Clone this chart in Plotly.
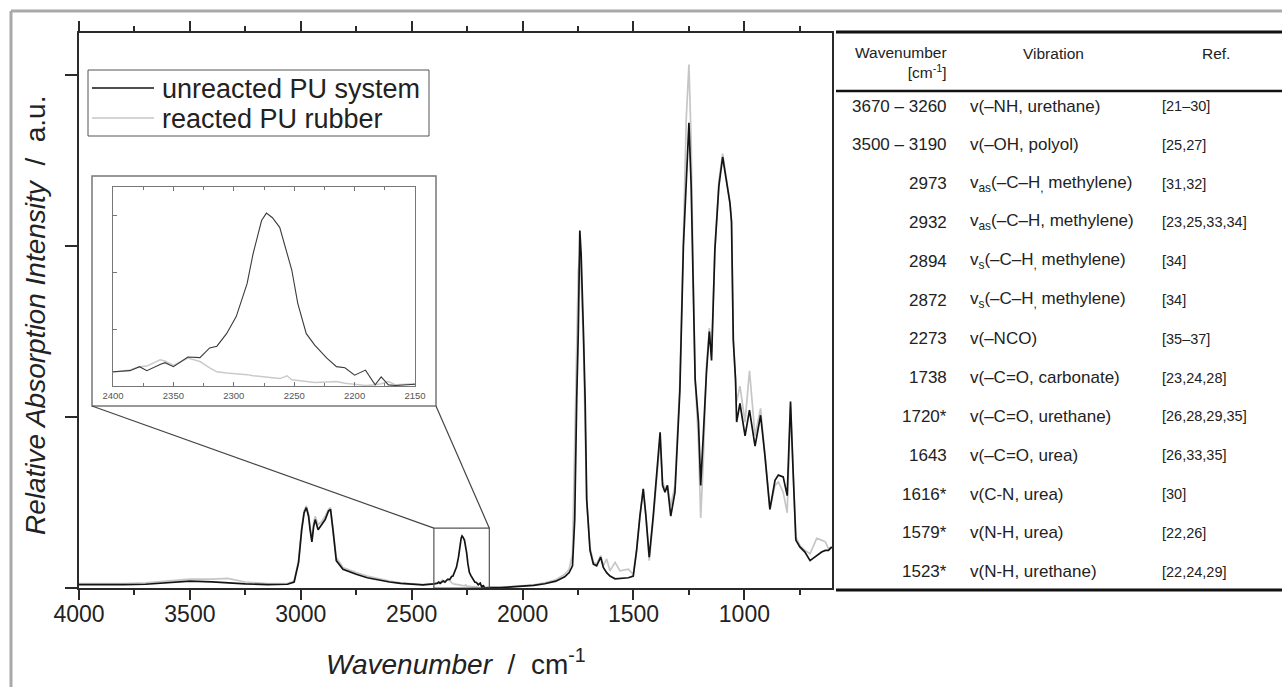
import plotly.graph_objects as go

W, H = 1282, 687

# ---------------- data ----------------
wavenumber = [4000, 3900, 3800, 3700, 3600, 3500, 3400, 3330, 3250, 3150, 3060, 3030, 3010, 2996,
              2985, 2975, 2965, 2958, 2950, 2942, 2935, 2922, 2905, 2890, 2875, 2866, 2855, 2840,
              2810, 2750, 2700, 2600, 2550, 2450,
              2400, 2386, 2378, 2372, 2361, 2357, 2350, 2338, 2328, 2320, 2314, 2306, 2298, 2289,
              2284, 2277, 2273, 2268, 2262, 2258, 2256, 2252, 2247, 2240, 2233, 2223, 2215, 2208,
              2200, 2191, 2183, 2178, 2172, 2166,
              2150, 2100, 2050, 2000, 1950, 1900, 1850, 1810, 1790, 1775, 1765, 1756, 1749, 1742,
              1736, 1726, 1718, 1711, 1696, 1681, 1666, 1648, 1636, 1621, 1606, 1583, 1561, 1523,
              1501, 1486, 1471, 1456, 1444, 1429, 1411, 1399, 1380, 1369, 1358, 1347, 1332, 1313,
              1291, 1275, 1262, 1250, 1240, 1230, 1222, 1207, 1197, 1185, 1171, 1158, 1148, 1133,
              1115, 1098, 1080, 1065, 1058, 1050, 1040, 1035, 1020, 997, 977, 952, 927, 907, 885,
              862, 847, 825, 807, 792, 780, 768, 750, 727, 704, 674, 652, 635, 621, 606]

unreacted = [0.020, 0.018, 0.020, 0.022, 0.030, 0.040, 0.036, 0.030, 0.024, 0.020, 0.022, 0.035, 0.15, 0.34,
             0.44, 0.47, 0.42, 0.34, 0.27, 0.36, 0.40, 0.34, 0.37, 0.40, 0.45, 0.46, 0.34, 0.16,
             0.11, 0.08, 0.06, 0.035, 0.027, 0.018,
             0.024, 0.027, 0.034, 0.027, 0.038, 0.041, 0.034, 0.051, 0.050, 0.067, 0.070, 0.092, 0.122, 0.180,
             0.233, 0.291, 0.304, 0.296, 0.279, 0.250, 0.232, 0.204, 0.145, 0.092, 0.072, 0.049, 0.034, 0.032,
             0.019, 0.028, 0.002, 0.016, 0.002, 0.001,
             0.003, 0.002, 0.006, 0.010, 0.015, 0.025, 0.040, 0.065, 0.09, 0.13, 0.40, 1.10, 1.49, 2.09,
             1.95, 1.51, 1.10, 0.52, 0.22, 0.14, 0.13, 0.18, 0.12, 0.09, 0.07, 0.054, 0.055, 0.06,
             0.07, 0.22, 0.42, 0.58, 0.42, 0.18, 0.42, 0.61, 0.91, 0.60, 0.56, 0.60, 0.42, 0.56,
             1.15, 2.00, 2.40, 2.72, 2.35, 1.78, 1.22, 0.97, 0.60, 0.90, 1.26, 1.50, 1.33, 1.98,
             2.35, 2.52, 2.37, 2.25, 2.14, 1.45, 1.22, 0.97, 1.08, 0.89, 1.04, 0.83, 1.01, 0.77, 0.46,
             0.63, 0.66, 0.65, 0.54, 1.09, 0.67, 0.28, 0.24, 0.21, 0.16, 0.19, 0.21, 0.22, 0.22, 0.24]

reacted = [0.025, 0.024, 0.026, 0.030, 0.042, 0.052, 0.052, 0.056, 0.035, 0.025, 0.026, 0.040, 0.16, 0.35,
           0.45, 0.48, 0.43, 0.35, 0.28, 0.38, 0.42, 0.37, 0.39, 0.42, 0.46, 0.47, 0.36, 0.18,
           0.12, 0.09, 0.07, 0.040, 0.030, 0.020,
           0.024, 0.028, 0.034, 0.035, 0.046, 0.044, 0.036, 0.049, 0.043, 0.032, 0.025, 0.023, 0.022, 0.020,
           0.018, 0.016, 0.015, 0.014, 0.013, 0.016, 0.018, 0.011, 0.010, 0.008, 0.006, 0.007, 0.008, 0.005,
           0.003, 0.001, 0.002, 0.004, 0.008, 0.002,
           0.004, 0.004, 0.008, 0.012, 0.018, 0.030, 0.048, 0.080, 0.11, 0.20, 0.80, 1.49, 1.85, 1.95,
           1.80, 1.45, 1.00, 0.50, 0.24, 0.15, 0.14, 0.19, 0.13, 0.17, 0.10, 0.15, 0.10, 0.11,
           0.08, 0.22, 0.42, 0.58, 0.42, 0.16, 0.40, 0.58, 0.87, 0.62, 0.58, 0.60, 0.48, 0.60,
           1.20, 2.05, 2.75, 3.06, 2.60, 1.78, 1.22, 0.85, 0.41, 0.75, 1.30, 1.52, 1.38, 1.98,
           2.38, 2.54, 2.37, 2.25, 2.14, 1.45, 1.22, 1.09, 1.18, 0.97, 1.27, 0.89, 1.05, 0.77, 0.46,
           0.60, 0.62, 0.56, 0.44, 1.06, 0.67, 0.30, 0.25, 0.22, 0.20, 0.29, 0.28, 0.27, 0.23, 0.24]

series_names = ["unreacted PU system", "reacted PU rubber"]

x_tick_vals = [4000, 3500, 3000, 2500, 2000, 1500, 1000]
y_tick_vals = [0, 1, 2, 3]
inset_x_ticks = [2400, 2350, 2300, 2250, 2200, 2150]
inset_y_ticks = [0.1, 0.2, 0.3]

table_header = ["Wavenumber<br>[cm<sup>-1</sup>]", "Vibration", "Ref."]
table_wavenumber = ["3670 – 3260", "3500 – 3190", "2973", "2932", "2894", "2872", "2273",
                    "1738", "1720*", "1643", "1616*", "1579*", "1523*"]
table_vibration = ["v(–NH, urethane)", "v(–OH, polyol)",
                   "v<sub>as</sub>(–C–H<sub>,</sub> methylene)", "v<sub>as</sub>(–C–H, methylene)",
                   "v<sub>s</sub>(–C–H<sub>,</sub> methylene)", "v<sub>s</sub>(–C–H<sub>,</sub> methylene)",
                   "v(–NCO)", "v(–C=O, carbonate)", "v(–C=O, urethane)", "v(–C=O, urea)",
                   "v(C-N, urea)", "v(N-H, urea)", "v(N-H, urethane)"]
table_ref = ["[21–30]", "[25,27]", "[31,32]", "[23,25,33,34]", "[34]", "[34]", "[35–37]",
             "[23,24,28]", "[26,28,29,35]", "[26,33,35]", "[30]", "[22,26]", "[22,24,29]"]

# ---------------- layout geometry (pixels) ----------------
def fx(p):
    return p / W

def fy(p):
    return 1 - p / H

MAIN_L, MAIN_R, MAIN_T, MAIN_B = 79, 832, 33, 588
X_RANGE = [4000, 605]
Y_RANGE = [0, 3.245]
INS_L, INS_R, INS_T, INS_B = 113, 415, 187, 386
INS_X_RANGE = [2400, 2150]
INS_Y_RANGE = [0, 0.35]

FONT = "Liberation Sans, Arial, Helvetica, sans-serif"
BLACK = "#141414"
GREY = "#c6c6c6"
series_colors = [BLACK, GREY]

fig = go.Figure()

# main traces (grey drawn first so black is on top)
fig.add_trace(go.Scatter(x=wavenumber, y=reacted, mode="lines", name=series_names[1],
                         line=dict(color=GREY, width=1.7), showlegend=False))
fig.add_trace(go.Scatter(x=wavenumber, y=unreacted, mode="lines", name=series_names[0],
                         line=dict(color=BLACK, width=1.7), showlegend=False))
# inset traces
fig.add_trace(go.Scatter(x=wavenumber, y=reacted, mode="lines", showlegend=False,
                         line=dict(color="#cacaca", width=1.5), xaxis="x2", yaxis="y2"))
fig.add_trace(go.Scatter(x=wavenumber, y=unreacted, mode="lines", showlegend=False,
                         line=dict(color="#3a3a3a", width=1.1), xaxis="x2", yaxis="y2"))

axis_col = "#2a2a2a"
fig.update_layout(
    width=W, height=H,
    margin=dict(l=0, r=0, t=0, b=0, autoexpand=False),
    paper_bgcolor="white", plot_bgcolor="rgba(0,0,0,0)",
    font=dict(family=FONT, color="#222"),
    xaxis=dict(domain=[fx(MAIN_L), fx(MAIN_R)], range=X_RANGE, tickvals=x_tick_vals,
               ticks="outside", ticklen=10, tickwidth=2, tickcolor=axis_col,
               minor=dict(dtick=250, ticks="outside", ticklen=5, tickwidth=1.5, tickcolor=axis_col),
               showline=True, linecolor=axis_col, linewidth=2, mirror="ticks",
               showgrid=False, zeroline=False, tickfont=dict(size=23, color="#222"),
               ticklabelstandoff=-6, anchor="y", automargin=False),
    yaxis=dict(domain=[fy(MAIN_B), fy(MAIN_T)], range=Y_RANGE, tickvals=y_tick_vals,
               ticks="outside", ticklen=12, tickwidth=2, tickcolor=axis_col,
               showticklabels=False, showline=True, linecolor=axis_col, linewidth=2,
               mirror=True, showgrid=False, zeroline=False, anchor="x", automargin=False),
    xaxis2=dict(domain=[fx(INS_L), fx(INS_R)], range=INS_X_RANGE, tickvals=inset_x_ticks,
                ticks="inside", ticklen=4, tickwidth=1, tickcolor="#777",
                minor=dict(dtick=25, ticks="inside", ticklen=3, tickwidth=1, tickcolor="#777"),
                showline=True, linecolor="#777", linewidth=1.2, mirror="ticks",
                showgrid=False, zeroline=False, tickfont=dict(size=9.5, color="#555"),
                anchor="y2", automargin=False),
    yaxis2=dict(domain=[fy(INS_B), fy(INS_T)], range=INS_Y_RANGE, tickvals=inset_y_ticks,
                ticks="inside", ticklen=4, tickwidth=1, tickcolor="#777",
                showticklabels=False, showline=True, linecolor="#777", linewidth=1.2,
                mirror=True, showgrid=False, zeroline=False, anchor="x2", automargin=False),
    showlegend=False,
)

# helper: main data coords -> paper
def data_to_paper(w, v):
    xd0, xd1 = fx(MAIN_L), fx(MAIN_R)
    yd0, yd1 = fy(MAIN_B), fy(MAIN_T)
    xp = xd0 + (X_RANGE[0] - w) / (X_RANGE[0] - X_RANGE[1]) * (xd1 - xd0)
    yp = yd0 + (v - Y_RANGE[0]) / (Y_RANGE[1] - Y_RANGE[0]) * (yd1 - yd0)
    return xp, yp

shapes = []
# outer grey frame
shapes.append(dict(type="line", xref="paper", yref="paper", x0=fx(11), x1=1.01, y0=fy(11), y1=fy(11),
                   line=dict(color="#a9a9a9", width=3)))
shapes.append(dict(type="line", xref="paper", yref="paper", x0=fx(11), x1=fx(11), y0=fy(11), y1=-0.01,
                   line=dict(color="#a9a9a9", width=3)))
# inset outer box
shapes.append(dict(type="rect", xref="paper", yref="paper", x0=fx(92), x1=fx(436), y0=fy(406), y1=fy(176),
                   line=dict(color="#777", width=1.5), fillcolor="white", layer="below"))
# zoom rectangle in main plot
shapes.append(dict(type="rect", xref="x", yref="y", x0=INS_X_RANGE[0], x1=INS_X_RANGE[1],
                   y0=INS_Y_RANGE[0], y1=INS_Y_RANGE[1], line=dict(color="#555", width=1.2)))
# connectors
tl = data_to_paper(INS_X_RANGE[0], INS_Y_RANGE[1])
tr = data_to_paper(INS_X_RANGE[1], INS_Y_RANGE[1])
shapes.append(dict(type="line", xref="paper", yref="paper", x0=fx(92), y0=fy(406), x1=tl[0], y1=tl[1],
                   line=dict(color="#444", width=1.2)))
shapes.append(dict(type="line", xref="paper", yref="paper", x0=fx(436), y0=fy(406), x1=tr[0], y1=tr[1],
                   line=dict(color="#444", width=1.2)))
# table rules
for yy, wd in [(32, 3), (91, 2.5), (590, 3)]:
    shapes.append(dict(type="line", xref="paper", yref="paper", x0=fx(836), x1=1.01, y0=fy(yy), y1=fy(yy),
                       line=dict(color="#111", width=wd)))
# legend box and samples
shapes.append(dict(type="rect", xref="paper", yref="paper", x0=fx(88), x1=fx(429), y0=fy(136), y1=fy(70),
                   line=dict(color="#555", width=1), fillcolor="white"))
legend_rows = [88, 118]
for yy, col in zip(legend_rows, series_colors):
    shapes.append(dict(type="line", xref="paper", yref="paper", x0=fx(92), x1=fx(154), y0=fy(yy), y1=fy(yy),
                       line=dict(color=col, width=1.7)))
fig.update_layout(shapes=shapes)

ann = []
# legend text
for yy, name in zip(legend_rows, series_names):
    ann.append(dict(xref="paper", yref="paper", x=fx(160), y=fy(yy + 1), xanchor="left", yanchor="middle",
                    text=name, showarrow=False, font=dict(size=27, color="#222", family=FONT)))
# axis titles
ann.append(dict(xref="paper", yref="paper", x=fx(456), y=fy(662), xanchor="center", yanchor="middle",
                text="<i>Wavenumber</i>\u00a0\u00a0/\u00a0\u00a0cm<sup>-1</sup>", showarrow=False,
                font=dict(size=28, color="#222", family=FONT)))
ann.append(dict(xref="paper", yref="paper", x=fx(35), y=fy(316), xanchor="center", yanchor="middle",
                text="<i>Relative Absorption Intensity</i>\u00a0\u00a0/\u00a0\u00a0a.u.", textangle=-90,
                showarrow=False, font=dict(size=28, color="#222", family=FONT)))
# table header
ann.append(dict(xref="paper", yref="paper", x=fx(949), y=fy(62), xanchor="right", yanchor="middle",
                align="right", text=table_header[0], showarrow=False,
                font=dict(size=15.5, color="#222", family=FONT)))
ann.append(dict(xref="paper", yref="paper", x=fx(1053), y=fy(53), xanchor="center", yanchor="middle",
                text=table_header[1], showarrow=False, font=dict(size=15.5, color="#222", family=FONT)))
ann.append(dict(xref="paper", yref="paper", x=fx(1232), y=fy(53), xanchor="right", yanchor="middle",
                text=table_header[2], showarrow=False, font=dict(size=15.5, color="#222", family=FONT)))
# table rows
for i, (wn, vib, ref) in enumerate(zip(table_wavenumber, table_vibration, table_ref)):
    yy = 106 + i * 38.8
    ann.append(dict(xref="paper", yref="paper", x=fx(949), y=fy(yy), xanchor="right", yanchor="middle",
                    text=wn, showarrow=False, font=dict(size=17, color="#222", family=FONT)))
    ann.append(dict(xref="paper", yref="paper", x=fx(968), y=fy(yy), xanchor="left", yanchor="middle",
                    text=vib, showarrow=False, font=dict(size=17, color="#222", family=FONT)))
    ann.append(dict(xref="paper", yref="paper", x=fx(1160), y=fy(yy), xanchor="left", yanchor="middle",
                    text=ref, showarrow=False, font=dict(size=14.5, color="#222", family=FONT)))
fig.update_layout(annotations=ann)

fig.write_html("out.html", config={"displayModeBar": False},
               post_script="document.body.style.margin='0';document.body.style.overflow='hidden';")
